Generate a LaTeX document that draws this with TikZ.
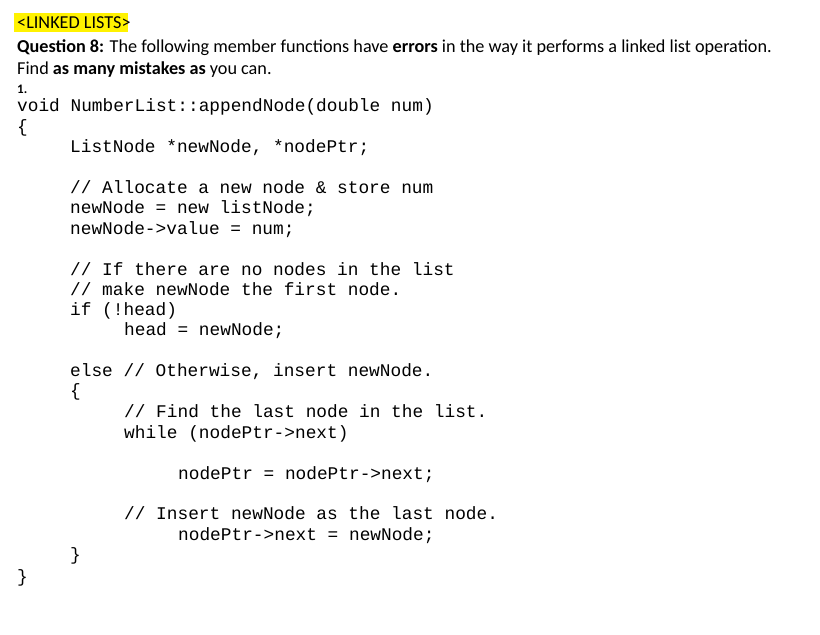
\documentclass[tikz,border=0pt]{standalone}
\usepackage{fontspec}
\setmainfont{Carlito}
\newfontfamily\codefont{Liberation Mono}
\begin{document}
\begin{tikzpicture}[x=1pt,y=-1pt,
  hd/.style={anchor=base west,inner sep=0pt,font=\fontsize{18.2}{20}\selectfont},
  cd/.style={anchor=base west,inner sep=0pt,font=\codefont\fontsize{17.8}{20}\selectfont}]
\useasboundingbox[fill=white] (0,0) rectangle (820,635);
\fill[yellow] (14,13) rectangle (128,32);
\node[hd] (t0) at (17,28) {<LINKED LISTS>};
\node[hd] (t1) at (17,52) {\textbf{Question 8:} The following member functions have \textbf{errors} in the way it performs a linked list operation.};
\node[hd] (t2) at (17,74) {Find \textbf{as many mistakes as} you can.};
\node[anchor=base west,inner sep=0pt,font=\bfseries\fontsize{13}{14}\selectfont] (t3) at (17,93) {1.};
\node[cd] (c1) at (17,111) {void NumberList::appendNode(double num)};
\node[cd] (c2) at (17,132) {\{};
\node[cd] (c3) at (70,152) {ListNode *newNode, *nodePtr;};
\node[cd] (c4) at (70,193) {// Allocate a new node \& store num};
\node[cd] (c5) at (70,213) {newNode = new listNode;};
\node[cd] (c6) at (70,234) {newNode->value = num;};
\node[cd] (c7) at (70,275) {// If there are no nodes in the list};
\node[cd] (c8) at (70,295) {// make newNode the first node.};
\node[cd] (c9) at (70,315) {if (!head)};
\node[cd] (c10) at (124,335) {head = newNode;};
\node[cd] (c11) at (70,376) {else // Otherwise, insert newNode.};
\node[cd] (c12) at (70,396) {\{};
\node[cd] (c13) at (124,417) {// Find the last node in the list.};
\node[cd] (c14) at (124,438) {while (nodePtr->next)};
\node[cd] (c15) at (178,479) {nodePtr = nodePtr->next;};
\node[cd] (c16) at (124,519) {// Insert newNode as the last node.};
\node[cd] (c17) at (178,540) {nodePtr->next = newNode;};
\node[cd] (c18) at (70,560) {\}};
\node[cd] (c19) at (17,582) {\}};
\end{tikzpicture}
\end{document}
